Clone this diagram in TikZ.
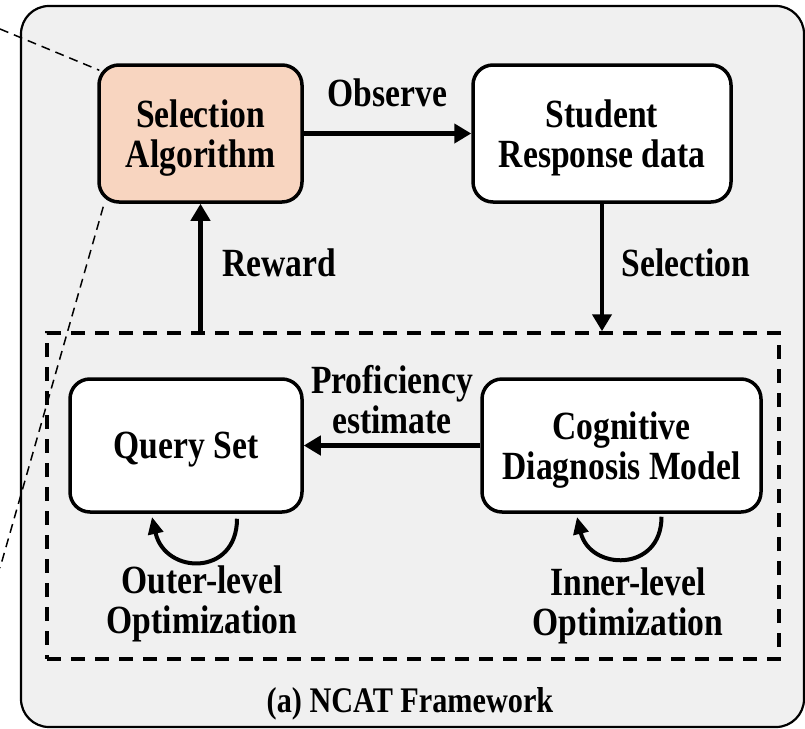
\documentclass[tikz,border=0pt]{standalone}
\usepackage{fontspec}
\setmainfont{Liberation Serif}[FakeStretch=0.84]
\usepackage{tikz}
\usetikzlibrary{arrows.meta}

\definecolor{panelgray}{RGB}{240,240,240}
\definecolor{peach}{RGB}{248,213,192}

\begin{document}
\begin{tikzpicture}[x=1pt, y=-1pt,
	every node/.style={font=\fontsize{40}{40}\selectfont\bfseries, align=center},
	block/.style={draw, line width=3.5pt, rounded corners=20pt, fill=white, inner sep=0pt, text depth=-4pt},
	flow/.style={line width=4.5pt, -{Triangle[length=17pt,width=19pt]}},
	selfloop/.style={line width=4pt, -{Triangle[length=17pt,width=15pt]}},
	zoomline/.style={line width=1.5pt, dash pattern=on 9pt off 6pt}]
\useasboundingbox (0,0) rectangle (805,728);
\draw[line width=2.2pt, fill=panelgray, rounded corners=28pt] (21,6) rectangle (804,727);
\node[draw, line width=3.5pt, dash pattern=on 14pt off 10pt, minimum width=732pt, minimum height=326pt, inner sep=0pt] (inner) at (413,496) {};

\node[block, fill=peach, minimum width=203pt, minimum height=137pt] (sel) at (200.5,133.5) {Selection\\Algorithm};
\node[block, minimum width=258pt, minimum height=137pt] (resp) at (602,133.5) {Student\\Response data};
\node[block, minimum width=232pt, minimum height=133pt] (query) at (186,445.5) {Query Set};
\node[block, minimum width=279pt, minimum height=133pt] (cdm) at (621.5,445.5) {Cognitive\\Diagnosis Model};

\coordinate (zoomtop) at (0,29);
\coordinate (zoombot) at (0,568);
\draw[zoomline] (zoomtop) -- ([xshift=2pt,yshift=-7pt]sel.north west);
\draw[zoomline] ([xshift=6pt,yshift=-3pt]sel.south west) -- (zoombot);

\path[flow]
(sel) edge node [above=21pt] (obs) {Observe} (resp)
(resp.south) edge node [right=14pt, yshift=5pt] (selc) {Selection} (resp.south |- inner.north)
(sel.south |- inner.north) edge node [right=16pt, yshift=5pt] (rwd) {Reward} (sel.south)
(cdm) edge node [above=6pt] (prof) {Proficiency\\estimate} (query)
;

\coordinate (qloop) at ([xshift=51pt,yshift=-5pt]query.south);
\coordinate (cloop) at ([xshift=40pt,yshift=-3pt]cdm.south);
\draw[selfloop] (qloop) .. controls ++(0,58) and (165,575) .. (152,517);
\draw[selfloop] (cloop) .. controls ++(0,56) and (590,571) .. (577,517);

\node (outer) at (202,604) {Outer-level\\Optimization};
\node (innerlvl) at (628,606) {Inner-level\\Optimization};
\node[font=\fontsize{36}{40}\selectfont\bfseries] (title) at (410,704) {(a) NCAT Framework};
\end{tikzpicture}
\end{document}
